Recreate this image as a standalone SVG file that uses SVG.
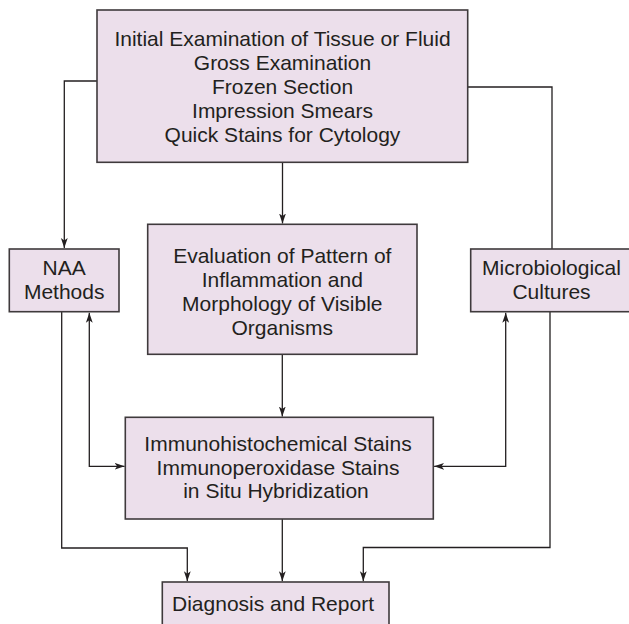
<svg xmlns="http://www.w3.org/2000/svg" width="629" height="624" viewBox="0 0 629 624">
  <style>
    .box { fill: #ecdfeb; stroke: #3f3a3c; stroke-width: 1.6; }
    .lbl { font-family: "Liberation Sans", Arial, sans-serif; font-size: 21px; fill: #231f20; text-anchor: middle; }
    .conn { fill: none; stroke: #231f20; stroke-width: 1.3; }
  </style>
  <defs>
    <marker id="arr" viewBox="0 0 10 8" markerUnits="userSpaceOnUse" markerWidth="10" markerHeight="8" refX="10" refY="4" orient="auto-start-reverse">
      <path d="M0,0.6 L10,4 L0,7.4 L2.6,4 Z" fill="#231f20"/>
    </marker>
  </defs>
  <rect width="629" height="624" fill="#ffffff"/>

  <g id="connectors">
    <path class="conn" d="M97,81 H64.3 V248" marker-end="url(#arr)"/>
    <path class="conn" d="M467.7,87 H552 V249"/>
    <path class="conn" d="M282.5,162.3 V223.5" marker-end="url(#arr)"/>
    <path class="conn" d="M282.3,354.3 V416.5" marker-end="url(#arr)"/>
    <path class="conn" d="M89.3,312.8 V466.3 H124.6" marker-start="url(#arr)" marker-end="url(#arr)"/>
    <path class="conn" d="M505.7,312.8 V466.3 H434.1" marker-start="url(#arr)" marker-end="url(#arr)"/>
    <path class="conn" d="M61.7,311.7 V548 H187.3 V581.2" marker-end="url(#arr)"/>
    <path class="conn" d="M282.3,519 V581.2" marker-end="url(#arr)"/>
    <path class="conn" d="M550,311.7 V547.5 H363.3 V581.2" marker-end="url(#arr)"/>
  </g>

  <g id="node-initial">
    <rect class="box" x="97" y="10" width="370.7" height="152.3"/>
    <text class="lbl" x="282.5" y="45.7">Initial Examination of Tissue or Fluid</text>
    <text class="lbl" x="282.5" y="69.7">Gross Examination</text>
    <text class="lbl" x="282.5" y="93.7">Frozen Section</text>
    <text class="lbl" x="282.5" y="117.7">Impression Smears</text>
    <text class="lbl" x="282.5" y="141.7">Quick Stains for Cytology</text>
  </g>

  <g id="node-naa">
    <rect class="box" x="9.3" y="249" width="109.7" height="62.7"/>
    <text class="lbl" x="64.2" y="275">NAA</text>
    <text class="lbl" x="64.2" y="299">Methods</text>
  </g>

  <g id="node-evaluation">
    <rect class="box" x="147.7" y="224.3" width="269.3" height="130"/>
    <text class="lbl" x="282.3" y="263.3">Evaluation of Pattern of</text>
    <text class="lbl" x="282.3" y="287.3">Inflammation and</text>
    <text class="lbl" x="282.3" y="310.8">Morphology of Visible</text>
    <text class="lbl" x="282.3" y="334.6">Organisms</text>
  </g>

  <g id="node-micro">
    <rect class="box" x="470.7" y="249" width="162" height="62.7"/>
    <text class="lbl" x="551.5" y="275">Microbiological</text>
    <text class="lbl" x="551.5" y="299">Cultures</text>
  </g>

  <g id="node-immuno">
    <rect class="box" x="125.3" y="417.3" width="308" height="101.7"/>
    <text class="lbl" x="278" y="451">Immunohistochemical Stains</text>
    <text class="lbl" x="278" y="474.5">Immunoperoxidase Stains</text>
    <text class="lbl" x="276" y="498.3">in Situ Hybridization</text>
  </g>

  <g id="node-diagnosis">
    <rect class="box" x="162.3" y="582" width="226.7" height="50"/>
    <text class="lbl" x="273" y="611.3">Diagnosis and Report</text>
  </g>
</svg>
